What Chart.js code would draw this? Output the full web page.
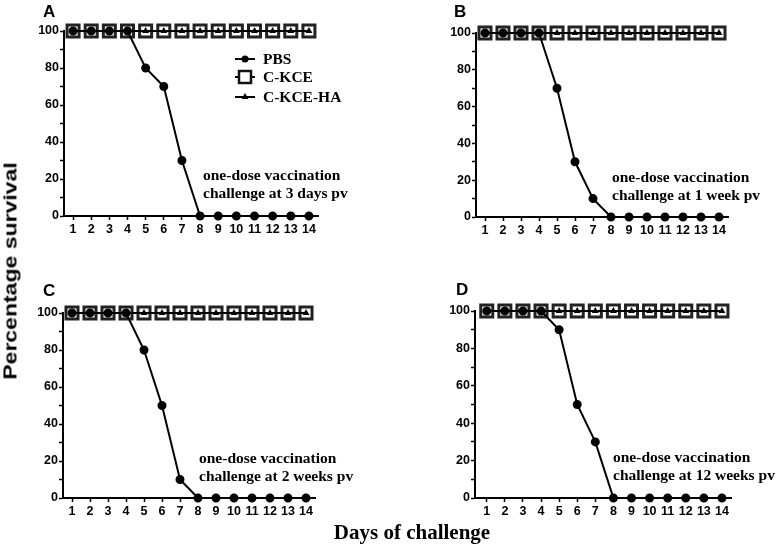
<!DOCTYPE html>
<html>
<head>
<meta charset="utf-8">
<script src="https://cdn.jsdelivr.net/npm/chart.js@4"></script>
<style>
  body { margin: 0; background: #fff; }
  #wrap { position: relative; width: 778px; height: 548px; overflow: hidden; }
  #wrap canvas { position: absolute; }
  .ytitle {
    position: absolute; left: 11px; top: 271px; white-space: nowrap;
    font: bold 23px "Liberation Sans", Arial, sans-serif; color: #000;
    transform: translate(-50%, -50%) rotate(-90deg) scale(1, 0.78);
  }
  .xtitle {
    position: absolute; left: 412px; top: 532px; white-space: nowrap;
    font: bold 21px "Liberation Serif", "Times New Roman", serif; color: #000;
    transform: translate(-50%, -50%);
  }
</style>
</head>
<body>
<div id="wrap">
  <canvas id="pA" width="389" height="270" style="left:0;top:0"></canvas>
  <canvas id="pB" width="389" height="270" style="left:389px;top:0"></canvas>
  <canvas id="pC" width="389" height="278" style="left:0;top:270px"></canvas>
  <canvas id="pD" width="389" height="278" style="left:389px;top:270px"></canvas>
  <div class="ytitle">Percentage survival</div>
  <div class="xtitle">Days of challenge</div>
</div>
<script>
// days after challenge
const days = [1, 2, 3, 4, 5, 6, 7, 8, 9, 10, 11, 12, 13, 14];
const yTicks = [0, 10, 20, 30, 40, 50, 60, 70, 80, 90, 100];

// survival (%) per group
const pbsA = [100, 100, 100, 100, 80, 70, 30, 0, 0, 0, 0, 0, 0, 0];
const pbsB = [100, 100, 100, 100, 70, 30, 10, 0, 0, 0, 0, 0, 0, 0];
const pbsC = [100, 100, 100, 100, 80, 50, 10, 0, 0, 0, 0, 0, 0, 0];
const pbsD = [100, 100, 100, 100, 90, 50, 30, 0, 0, 0, 0, 0, 0, 0];
const ckce = [100, 100, 100, 100, 100, 100, 100, 100, 100, 100, 100, 100, 100, 100];
const ckceHA = [100, 100, 100, 100, 100, 100, 100, 100, 100, 100, 100, 100, 100, 100];

const groups = ["PBS", "C-KCE", "C-KCE-HA"];

const serif = '"Liberation Serif", "Times New Roman", serif';
const sans = '"Liberation Sans", Arial, sans-serif';

function pts(vals) {
  return days.map((d, i) => ({ x: d, y: vals[i] }));
}

function marker(ctx, style, x, y) {
  ctx.beginPath();
  if (style == "circle") {
    ctx.arc(x, y, 3.5, 0, Math.PI * 2);
    ctx.fillStyle = "#000";
    ctx.fill();
  } else if (style == "rect") {
    ctx.rect(x - 6, y - 6, 12, 12);
    ctx.fillStyle = "#fff";
    ctx.fill();
    ctx.lineWidth = 2.5;
    ctx.strokeStyle = "#111";
    ctx.stroke();
  } else {
    ctx.moveTo(x, y - 4);
    ctx.lineTo(x + 3.5, y + 2);
    ctx.lineTo(x - 3.5, y + 2);
    ctx.closePath();
    ctx.fillStyle = "#000";
    ctx.fill();
  }
}

const extras = {
  id: "extras",
  afterDraw(chart, args, o) {
    const ctx = chart.ctx;
    ctx.save();
    ctx.fillStyle = "#000";
    ctx.textAlign = "left";
    ctx.textBaseline = "alphabetic";
    ctx.font = "bold 17px " + sans;
    ctx.fillText(o.letter, o.lx, o.ly);

    ctx.font = "bold 15.5px " + serif;
    ctx.textBaseline = "middle";
    o.note.forEach((t, i) => ctx.fillText(t, o.nx, o.ny + i * 17.5));

    if (o.legend) {
      const styles = ["circle", "rect", "triangle"];
      const rows = [59, 77, 97];
      groups.forEach((g, i) => {
        ctx.beginPath();
        ctx.moveTo(235, rows[i]);
        ctx.lineTo(255, rows[i]);
        ctx.lineWidth = 2;
        ctx.strokeStyle = "#000";
        ctx.stroke();
        marker(ctx, styles[i], 245, rows[i]);
        ctx.fillStyle = "#000";
        ctx.fillText(g, 263, rows[i] + 1);
      });
    }
    ctx.restore();
  }
};

function panel(id, pbs, xmin, pad, ex) {
  new Chart(document.getElementById(id), {
    type: "line",
    data: {
      datasets: [
        {
          label: groups[0], data: pts(pbs), order: 0,
          borderColor: "#000", borderWidth: 2,
          pointStyle: "circle", pointRadius: 3.5,
          pointBackgroundColor: "#000", pointBorderColor: "#000",
          clip: false
        },
        {
          label: groups[2], data: pts(ckceHA), order: 1,
          borderColor: "#000", borderWidth: 2,
          pointStyle: "triangle", pointRadius: 4,
          pointBackgroundColor: "#000", pointBorderColor: "#000", pointBorderWidth: 0,
          clip: false
        },
        {
          label: groups[1], data: pts(ckce), order: 2,
          borderColor: "#000", borderWidth: 2,
          pointStyle: "rect", pointRadius: 8.5,
          pointBackgroundColor: "#fff", pointBorderColor: "#222", pointBorderWidth: 3,
          clip: false
        }
      ]
    },
    options: {
      responsive: false,
      animation: false,
      layout: { padding: pad },
      plugins: {
        legend: { display: false },
        tooltip: { enabled: false },
        extras: ex
      },
      scales: {
        x: {
          type: "linear", min: xmin, max: 14.5,
          afterBuildTicks: s => { s.ticks = days.map(v => ({ value: v })); },
          afterFit: s => { s.height = 22; },
          grid: { drawOnChartArea: false, tickLength: 4, tickColor: "#000", tickWidth: 1.5 },
          border: { color: "#000", width: 2 },
          ticks: { color: "#000", font: { family: sans, size: 12.5, weight: "bold" }, padding: 2, autoSkip: false, maxRotation: 0 }
        },
        y: {
          min: 0, max: 100,
          afterBuildTicks: s => { s.ticks = yTicks.map(v => ({ value: v })); },
          afterFit: s => { s.width = 40; },
          grid: { drawOnChartArea: false, tickLength: 4, tickColor: "#000", tickWidth: 1.5 },
          border: { color: "#000", width: 2 },
          ticks: {
            color: "#000", font: { family: sans, size: 12.5, weight: "bold" }, padding: 1, autoSkip: false,
            callback: v => (v % 20 == 0 ? v : "")
          }
        }
      }
    },
    plugins: [extras]
  });
}

panel("pA", pbsA, 0.5, { left: 24, top: 31, right: 71, bottom: 32 },
  { letter: "A", lx: 43, ly: 17, note: ["one-dose vaccination", "challenge at 3 days pv"], nx: 203, ny: 176, legend: true });
panel("pB", pbsB, 0.5, { left: 47, top: 33, right: 50, bottom: 31 },
  { letter: "B", lx: 65, ly: 17, note: ["one-dose vaccination", "challenge at 1 week pv"], nx: 223, ny: 178, legend: false });
panel("pC", pbsC, 0.5, { left: 23, top: 43, right: 74, bottom: 28 },
  { letter: "C", lx: 43, ly: 26, note: ["one-dose vaccination", "challenge at 2 weeks pv"], nx: 199, ny: 189, legend: false });
panel("pD", pbsD, 0.35, { left: 46, top: 41, right: 47, bottom: 28 },
  { letter: "D", lx: 67, ly: 25, note: ["one-dose vaccination", "challenge at 12 weeks pv"], nx: 224, ny: 188, legend: false });
</script>
</body>
</html>
